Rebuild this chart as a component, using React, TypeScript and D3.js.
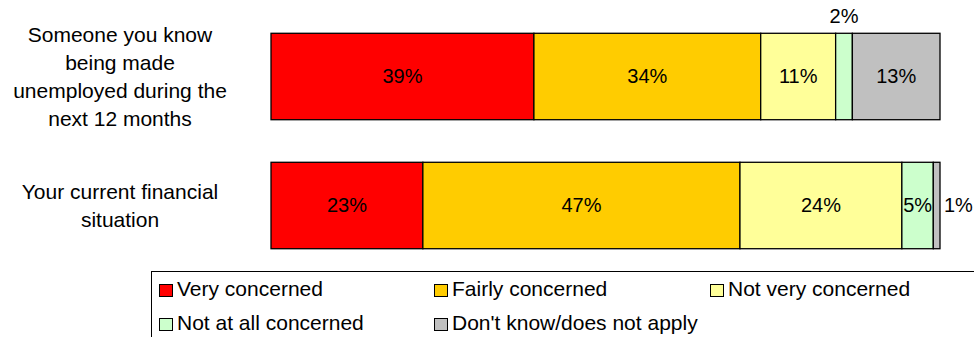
import React from "react";
import * as d3 from "d3";

const categories = [
  ["Someone you know", "being made", "unemployed during the", "next 12 months"],
  ["Your current financial", "situation"],
];
const seriesNames = [
  "Very concerned",
  "Fairly concerned",
  "Not very concerned",
  "Not at all concerned",
  "Don't know/does not apply",
];
const seriesColors = ["#FF0000", "#FFCC00", "#FFFF99", "#CCFFCC", "#C0C0C0"];
// values per row, displayed labels
const row1Values = [39.3, 33.9, 11.2, 2.5, 13.1];
const row2Values = [22.7, 47.4, 24.2, 4.7, 1.0];
const row1Labels = ["39%", "34%", "11%", "2%", "13%"];
const row2Labels = ["23%", "47%", "24%", "5%", "1%"];

const W = 974;
const H = 337;
const FONT = "'Liberation Sans', Arial, sans-serif";

export default function App() {
  const rows = [
    { key: "r0", values: row1Values, labels: row1Labels, cat: categories[0] },
    { key: "r1", values: row2Values, labels: row2Labels, cat: categories[1] },
  ];
  const x = d3.scaleLinear().domain([0, 100]).range([271, 940]);
  const y = d3
    .scaleBand<string>()
    .domain(rows.map((r) => r.key))
    .range([12, 270])
    .paddingInner(0.33)
    .paddingOuter(0.165);
  const bw = y.bandwidth();

  const legendCols = [159, 434, 710];
  const legendRows = [284, 318];

  return (
    <svg
      width={W}
      height={H}
      style={{ position: "absolute", left: 0, top: 0, background: "#fff" }}
      fontFamily={FONT}
    >
      <rect x={0} y={0} width={W} height={H} fill="#fff" />
      {rows.map((r) => {
        const y0 = y(r.key)!;
        const cy = y0 + bw / 2;
        let cum = 0;
        const segs = r.values.map((v, i) => {
          const s = { x0: cum, x1: cum + v, v, i };
          cum += v;
          return s;
        });
        const lineH = 27.7;
        const n = r.cat.length;
        return (
          <g key={r.key}>
            {r.cat.map((line, j) => (
              <text
                key={j}
                x={120}
                y={cy + (j - (n - 1) / 2) * lineH + 7.5}
                textAnchor="middle"
                fontSize={21}
                fill="#000"
              >
                {line}
              </text>
            ))}
            {segs.map((s) => (
              <rect
                key={s.i}
                x={x(s.x0)}
                y={y0}
                width={x(s.x1) - x(s.x0)}
                height={bw}
                fill={seriesColors[s.i]}
                stroke="#000"
                strokeWidth={1.3}
              />
            ))}
            {segs.map((s) => {
              const w = x(s.x1) - x(s.x0);
              const label = r.labels[s.i];
              if (w < 12) {
                return (
                  <text
                    key={"l" + s.i}
                    x={x(s.x1) + 4}
                    y={cy + 6}
                    fontSize={20}
                    fill="#000"
                  >
                    {label}
                  </text>
                );
              }
              if (w < 25) {
                return (
                  <text
                    key={"l" + s.i}
                    x={(x(s.x0) + x(s.x1)) / 2}
                    y={y0 - 10}
                    textAnchor="middle"
                    fontSize={20}
                    fill="#000"
                  >
                    {label}
                  </text>
                );
              }
              return (
                <text
                  key={"l" + s.i}
                  x={(x(s.x0) + x(s.x1)) / 2}
                  y={cy + 6}
                  textAnchor="middle"
                  fontSize={20}
                  fill="#000"
                >
                  {label}
                </text>
              );
            })}
          </g>
        );
      })}
      <rect x={151.5} y={271.5} width={900} height={100} fill="none" stroke="#000" strokeWidth={1} />
      {seriesNames.map((name, i) => {
        const cx = legendCols[i % 3];
        const ry = legendRows[Math.floor(i / 3)];
        return (
          <g key={name}>
            <rect x={cx + 0.5} y={ry + 0.5} width={13} height={12} fill={seriesColors[i]} stroke="#000" strokeWidth={1} />
            <text x={cx + 18} y={ry + 12} fontSize={21} fill="#000">
              {name}
            </text>
          </g>
        );
      })}
    </svg>
  );
}
